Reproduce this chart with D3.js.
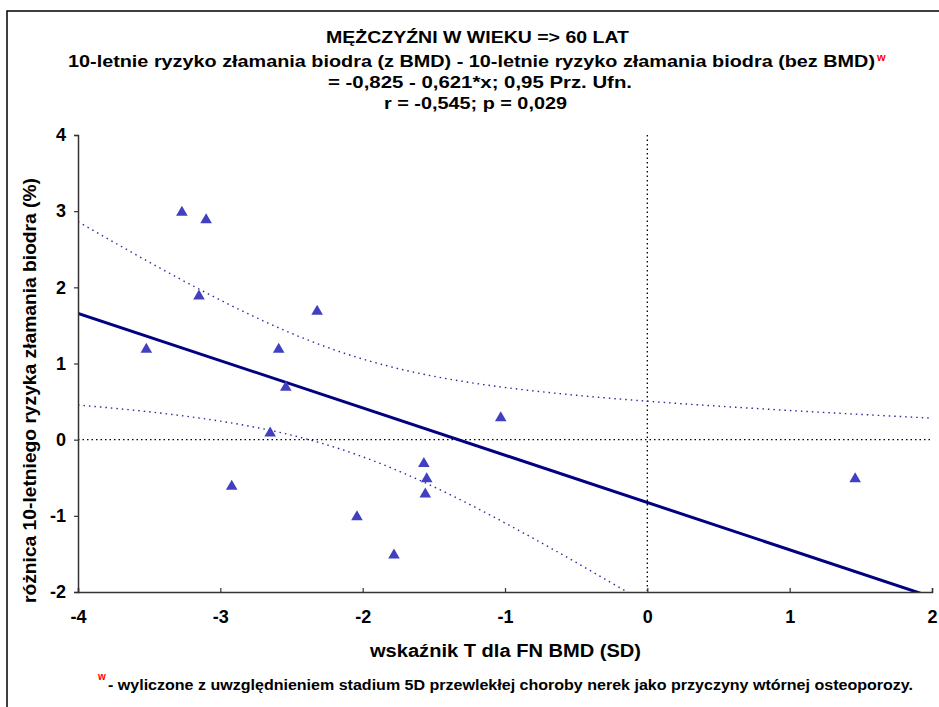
<!DOCTYPE html>
<html>
<head>
<meta charset="utf-8">
<script src="https://cdn.jsdelivr.net/npm/d3@7"></script>
<style>
  body { margin: 0; background: #fff; }
  text { font-family: "Liberation Sans", Arial, sans-serif; font-weight: bold; }
</style>
</head>
<body>
<svg id="chart" width="939" height="707"></svg>
<script>
// T-score (x) vs difference in 10-year hip fracture risk (y)
const tScore = [-3.27, -3.10, -3.15, -2.32, -3.52, -2.59, -2.54, -2.65, -1.03, -1.57, -1.55, -1.56, -2.92, -2.04, -1.78, 1.46];
const riskDiff = [3.0, 2.9, 1.9, 1.7, 1.2, 1.2, 0.7, 0.1, 0.3, -0.3, -0.5, -0.7, -0.6, -1.0, -1.5, -0.5];

// regression from the title: y = -0.825 - 0.621*x
const intercept = -0.825;
const slope = -0.621;
const tCrit = 2.145; // t(0.975, df=14)

const xTicks = [-4, -3, -2, -1, 0, 1, 2];
const yTicks = [-2, -1, 0, 1, 2, 3, 4];

const titleLines = [
  "MĘŻCZYŹNI W WIEKU => 60 LAT",
  "10-letnie ryzyko złamania biodra (z BMD) - 10-letnie ryzyko złamania biodra (bez BMD)",
  "= -0,825 - 0,621*x; 0,95 Prz. Ufn.",
  "r = -0,545; p = 0,029"
];

const svg = d3.select("#chart");
const mLeft = 78, mRight = 932, mTop = 135, mBottom = 592;

const x = d3.scaleLinear().domain([-4, 2]).range([mLeft, mRight]);
const y = d3.scaleLinear().domain([-2, 4]).range([mBottom, mTop]);

// outer frame (cut at right/bottom in the original)
svg.append("rect")
  .attr("x", 7).attr("y", 11)
  .attr("width", 960).attr("height", 720)
  .attr("fill", "none").attr("stroke", "#000").attr("stroke-width", 1.5);

// titles: start x, baseline, width
const titleX = [326, 68, 328, 384];
const titleY = [43, 67, 88, 109];
const titleW = [303, 807, 304, 183];
titleLines.forEach((t, i) => {
  svg.append("text")
    .attr("x", titleX[i]).attr("y", titleY[i])
    .attr("textLength", titleW[i]).attr("lengthAdjust", "spacingAndGlyphs")
    .style("font-size", "17px")
    .text(t);
});
svg.append("text")
  .attr("x", 877).attr("y", 61)
  .attr("fill", "#ff0000")
  .style("font-size", "11px")
  .text("w");

// clip for plot area
svg.append("defs").append("clipPath").attr("id", "plot")
  .append("rect").attr("x", mLeft).attr("y", mTop)
  .attr("width", mRight - mLeft).attr("height", mBottom - mTop);

const plot = svg.append("g").attr("clip-path", "url(#plot)");

// reference lines
plot.append("line")
  .attr("x1", x(-4)).attr("x2", x(2)).attr("y1", y(0)).attr("y2", y(0))
  .attr("stroke", "#000").attr("stroke-width", 1.3).attr("stroke-dasharray", "1.5,3");
plot.append("line")
  .attr("x1", x(0)).attr("x2", x(0)).attr("y1", y(4)).attr("y2", y(-2))
  .attr("stroke", "#000").attr("stroke-width", 1.3).attr("stroke-dasharray", "1.5,3");

// confidence band from the data
const n = tScore.length;
const mx = d3.mean(tScore);
const sxx = d3.sum(tScore, v => (v - mx) ** 2);
const sse = d3.sum(tScore, (v, i) => (riskDiff[i] - (intercept + slope * v)) ** 2);
const s = Math.sqrt(sse / (n - 2));
const gridX = d3.range(0, 121).map(i => -4 + i * 0.05);
const half = v => tCrit * s * Math.sqrt(1 / n + (v - mx) ** 2 / sxx);

const line = d3.line().x(d => x(d[0])).y(d => y(d[1]));
[1, -1].forEach(sign => {
  plot.append("path")
    .attr("d", line(gridX.map(v => [v, intercept + slope * v + sign * half(v)])))
    .attr("fill", "none").attr("stroke", "#2b2ba0").attr("stroke-width", 1.4)
    .attr("stroke-dasharray", "1.5,4");
});

// regression line
plot.append("path")
  .attr("d", line([[-4, intercept + slope * -4], [2, intercept + slope * 2]]))
  .attr("fill", "none").attr("stroke", "#000080").attr("stroke-width", 3);

// points
svg.append("g").selectAll("path")
  .data(tScore.map((v, i) => [v, riskDiff[i]]))
  .join("path")
  .attr("transform", d => `translate(${x(d[0])},${y(d[1])})`)
  .attr("d", "M0,-5.5L5.8,4.5L-5.8,4.5Z")
  .attr("fill", "#4040c0");

// axes
const fmt = d => String(d);
const yAxis = svg.append("g")
  .attr("transform", `translate(${mLeft},0)`)
  .call(d3.axisLeft(y).tickValues(yTicks).tickSize(4).tickPadding(8).tickFormat(fmt));
const xAxis = svg.append("g")
  .attr("transform", `translate(0,${mBottom})`)
  .call(d3.axisBottom(x).tickValues(xTicks).tickSize(-4).tickPadding(18).tickFormat(fmt));
[xAxis, yAxis].forEach(a => {
  a.select(".domain").attr("stroke", "#333").attr("stroke-width", 1.5);
  a.selectAll(".tick line").attr("stroke", "#333").attr("stroke-width", 1.2);
  a.selectAll("text").attr("fill", "#000").style("font-size", "18px")
    .style("font-family", "'Liberation Sans', Arial, sans-serif")
    .style("font-weight", "bold");
});

// axis titles
svg.append("text")
  .attr("x", 370).attr("y", 657)
  .attr("textLength", 271).attr("lengthAdjust", "spacingAndGlyphs")
  .style("font-size", "18px")
  .text("wskaźnik T dla FN BMD (SD)");

svg.append("text")
  .attr("transform", "translate(36,603) rotate(-90)")
  .attr("textLength", 425).attr("lengthAdjust", "spacingAndGlyphs")
  .style("font-size", "18px")
  .text("różnica 10-letniego ryzyka złamania biodra (%)");

// footnote
svg.append("text")
  .attr("x", 98).attr("y", 680)
  .attr("fill", "#ff0000")
  .style("font-size", "10px")
  .text("w");
svg.append("text")
  .attr("x", 108).attr("y", 690)
  .attr("textLength", 805).attr("lengthAdjust", "spacingAndGlyphs")
  .style("font-size", "14px")
  .text("- wyliczone z uwzględnieniem stadium 5D przewlekłej choroby nerek jako przyczyny wtórnej osteoporozy.");
</script>
</body>
</html>
